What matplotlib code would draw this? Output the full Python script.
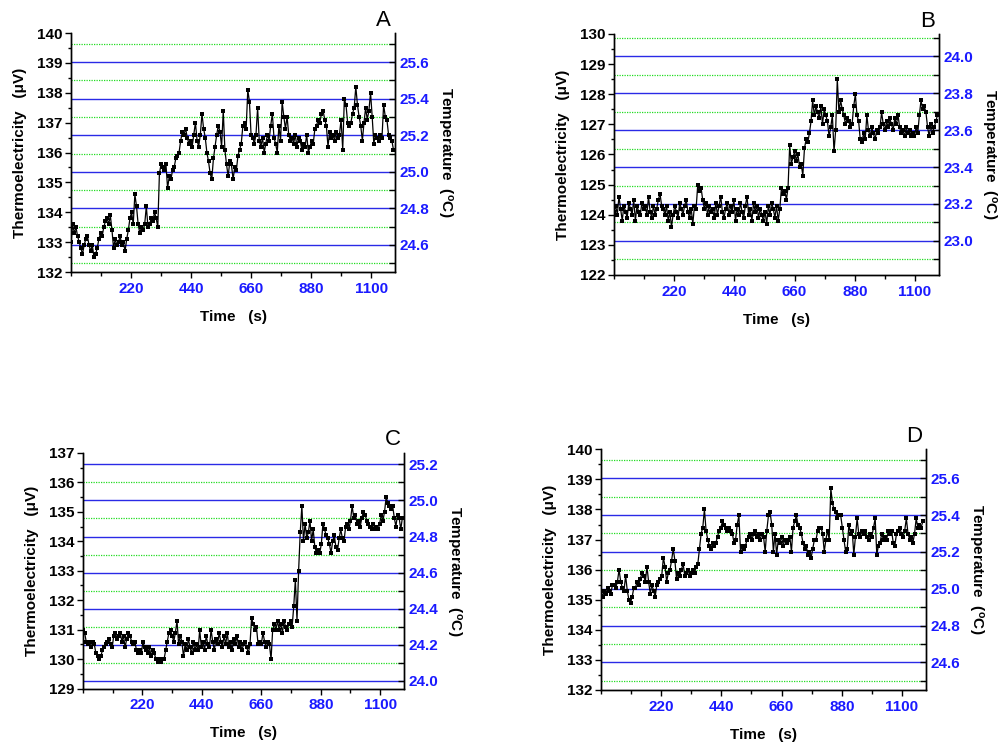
import numpy as np
import matplotlib
matplotlib.use('Agg')
import matplotlib.pyplot as plt
from matplotlib.ticker import MultipleLocator, FixedLocator

plt.rcParams['font.family'] = ['Liberation Sans', 'DejaVu Sans']
plt.rcParams['mathtext.default'] = 'regular'

# sample times (s), one point every 6 s
time_abc = np.arange(0, 1188, 6)
time_d = np.arange(0, 1180, 6)

# thermoelectricity (uV)
volt_a = [
    133.0, 133.6, 133.3, 133.5, 133.2, 133.0, 132.8, 132.6, 132.9, 133.1,
    133.2, 132.9, 132.7, 132.9, 132.5, 132.6, 132.8, 133.1, 133.3, 133.2,
    133.5, 133.7, 133.8, 133.6, 133.9, 133.4, 132.8, 133.1, 132.9, 133.0,
    133.2, 132.9, 133.0, 132.7, 133.1, 133.4, 133.8, 134.0, 133.6, 134.6,
    134.2, 133.6, 133.3, 133.5, 133.4, 133.6, 134.2, 133.5, 133.6, 133.8,
    133.7, 134.0, 133.8, 133.5, 135.3, 135.6, 135.5, 135.4, 135.6, 134.8,
    135.2, 135.1, 135.4, 135.5, 135.8, 135.9, 136.0, 136.4, 136.7, 136.6,
    136.8, 136.5, 136.3, 136.4, 136.2, 136.6, 137.0, 136.4, 136.2, 136.6,
    137.3, 136.8, 136.5, 136.0, 135.7, 135.3, 135.1, 135.8, 136.2, 136.6,
    136.9, 136.7, 136.2, 137.4, 136.1, 135.6, 135.2, 135.7, 135.6, 135.1,
    135.5, 135.4, 135.9, 136.1, 136.3, 136.9, 137.0, 136.8, 138.1, 137.7,
    136.6, 136.5, 136.3, 136.6, 137.5, 136.4, 136.2, 136.5, 136.0, 136.3,
    136.6, 136.4, 136.9, 137.3, 136.5, 136.3, 136.0, 136.9, 136.4, 137.7,
    137.2, 136.8, 137.2, 136.6, 136.4, 136.5, 136.3, 136.6, 136.2, 136.5,
    136.4, 136.1, 136.3, 136.2, 136.6, 136.0, 136.2, 136.4, 136.3, 136.8,
    136.9, 137.1, 137.0, 137.3, 137.4, 137.1, 136.9, 136.2, 136.7, 136.5,
    136.6, 136.4, 136.7, 136.5, 136.6, 137.1, 136.1, 137.8, 137.6, 137.0,
    136.9, 137.0, 137.3, 137.5, 138.2, 137.6, 137.2, 136.9, 136.4, 137.0,
    137.5, 137.1, 137.4, 138.0, 137.2, 136.3, 136.6, 136.5, 136.4, 136.6,
    136.5, 137.6, 137.2, 137.1, 136.6, 136.5, 136.4, 136.1,
]

volt_b = [
    124.1, 124.3, 124.0, 124.6, 124.2, 123.8, 124.3, 124.1, 123.9, 124.4,
    124.2, 124.0, 124.5, 123.8, 124.3, 124.1, 124.0, 124.4, 124.2, 124.3,
    124.0, 124.6, 124.1, 123.9, 124.3, 124.0, 124.2, 124.5, 124.7, 124.3,
    124.2, 124.0, 124.3, 123.8, 124.1, 123.6, 124.0, 124.3, 124.1, 123.9,
    124.4, 124.2, 124.0, 124.3, 124.5, 124.1, 123.9, 124.2, 123.7, 124.3,
    124.2, 125.0, 124.8, 124.9, 124.5, 124.2, 124.4, 124.0, 124.3, 124.1,
    124.2, 123.9, 124.4, 124.0, 124.3, 124.6, 124.1, 123.9, 124.2, 124.4,
    124.0, 124.3, 124.1, 124.5, 123.8, 124.2, 124.0, 124.4, 124.1, 123.9,
    124.3, 124.6, 124.0, 124.2, 123.8, 124.4, 124.1, 124.3, 123.9, 124.2,
    124.0, 123.8, 124.1, 123.7, 124.3, 124.0, 124.4, 124.2, 123.9, 124.3,
    123.8, 124.2, 124.9, 124.7, 124.8, 124.5, 124.9, 126.3, 125.7, 125.9,
    126.1, 125.8, 126.0, 125.6, 125.7, 125.3, 126.2, 126.5, 126.4, 126.7,
    127.1, 127.8, 127.3, 127.6, 127.4, 127.2, 127.6, 127.0, 127.5, 127.3,
    127.1, 126.6, 126.9, 127.3, 126.1, 126.8, 128.5, 127.4, 127.8, 127.5,
    127.3, 127.0, 127.2, 127.1, 126.9, 127.0, 127.6, 128.0, 127.3, 127.1,
    126.5, 126.4, 126.7, 126.5, 127.3, 126.8, 126.6, 126.9, 126.7, 126.5,
    126.8, 126.7, 126.9, 127.4, 127.0, 126.8, 127.1, 126.9, 127.2, 127.0,
    126.8, 127.2, 127.0, 127.3, 126.9, 126.7, 126.8, 126.6, 126.9, 126.7,
    126.8, 126.6, 126.7, 126.6, 126.9, 126.7, 127.3, 127.8, 127.5, 127.6,
    127.4, 126.9, 126.6, 127.0, 126.7, 126.9, 127.1, 127.3,
]

volt_c = [
    131.0, 130.9, 130.6, 130.5, 130.6, 130.4, 130.6, 130.5, 130.2, 130.1,
    130.0, 130.1, 130.3, 130.4, 130.5, 130.6, 130.7, 130.5, 130.4, 130.8,
    130.9, 130.7, 130.8, 130.9, 130.6, 130.8, 130.4, 130.7, 130.9, 130.8,
    130.6, 130.5, 130.6, 130.3, 130.2, 130.3, 130.2, 130.6, 130.4, 130.3,
    130.2, 130.4, 130.1, 130.3, 130.2, 130.0, 129.9, 130.0, 129.9, 130.0,
    130.0, 130.3, 130.6, 130.9, 131.0, 130.8, 130.6, 130.9, 131.3, 130.5,
    130.8, 130.6, 130.1, 130.5, 130.3, 130.7, 130.4, 130.2, 130.6, 130.3,
    130.5, 130.3, 131.0, 130.4, 130.6, 130.3, 130.8, 130.5, 130.4, 131.0,
    130.6, 130.3, 130.7, 130.5, 130.9, 130.6, 130.4, 130.8, 130.5, 130.9,
    130.4, 130.6, 130.3, 130.7, 130.5, 130.8, 130.4, 130.6, 130.3, 130.5,
    130.6, 130.4, 130.2, 130.5, 131.4, 131.2, 131.0, 131.1, 130.5, 130.6,
    130.5, 130.9, 130.6, 130.4, 130.6, 130.5, 130.0, 131.0, 131.2, 131.0,
    131.3, 131.0, 131.2, 130.9, 131.3, 131.1, 131.0, 131.2, 131.3, 131.1,
    131.8, 132.7, 131.3, 133.0, 134.3, 135.2, 134.0, 134.6, 134.1, 134.3,
    134.7, 134.0, 134.4, 133.8, 133.6, 133.7, 133.6, 133.9, 134.6, 134.4,
    134.2, 134.1, 133.9, 133.6, 134.0, 134.2, 133.8, 133.7, 134.1, 134.4,
    134.1, 134.0, 134.5, 134.6, 134.4, 134.7, 135.2, 134.8, 134.9, 134.6,
    134.7, 134.5, 134.8, 135.0, 134.9, 134.7, 134.6, 134.5, 134.4, 134.6,
    134.4, 134.5, 134.4, 134.6, 134.9, 134.7, 135.0, 135.5, 135.3, 135.2,
    135.1, 135.2, 134.8, 134.5, 134.9, 134.8, 134.4, 134.8,
]

volt_d = [
    135.3, 135.1, 135.3, 135.2, 135.4, 135.3, 135.2, 135.5, 135.5, 135.4,
    135.6, 136.0, 135.6, 135.4, 135.3, 135.8, 135.3, 135.0, 134.9, 135.1,
    135.4, 135.4, 135.6, 135.5, 135.7, 135.9, 135.8, 135.6, 136.1, 135.6,
    135.2, 135.5, 135.3, 135.1, 135.5, 135.6, 135.7, 135.8, 136.4, 136.1,
    135.6, 135.9, 136.0, 136.3, 136.7, 136.3, 135.7, 135.9, 135.8, 136.0,
    136.2, 135.8, 135.9, 136.0, 135.8, 135.9, 136.0, 135.9, 136.1, 136.2,
    136.7, 137.2, 137.4, 138.0, 137.3, 137.0, 136.8, 136.7, 136.9, 136.8,
    136.9, 137.1, 137.3, 137.4, 137.6, 137.5, 137.4, 137.3, 137.4, 137.3,
    137.2, 136.9, 137.0, 137.5, 137.8, 136.6, 136.8, 136.7, 136.8, 137.0,
    137.1, 137.2, 137.0, 137.2, 137.3, 137.1, 137.2, 137.0, 137.2, 137.1,
    136.6, 137.3, 137.8, 137.9, 137.5, 136.6, 137.2, 136.5, 137.0, 136.9,
    137.1, 136.8, 137.0, 136.9, 137.0, 137.1, 136.6, 137.4, 137.6, 137.8,
    137.5, 137.4, 137.2, 136.9, 136.7, 136.8, 136.5, 136.6, 136.4, 136.7,
    137.0, 137.0, 137.3, 137.4, 137.4, 137.2, 136.6, 137.0, 137.3, 137.0,
    138.7, 138.2, 138.0, 137.9, 137.7, 137.8, 137.8, 137.4, 137.0, 136.6,
    136.7, 137.5, 137.2, 137.3, 136.5, 137.1, 137.7, 137.2, 137.1, 137.3,
    137.2, 137.3, 137.1, 137.0, 137.2, 137.1, 137.4, 137.7, 136.5, 136.8,
    136.9, 137.2, 137.0, 137.1, 137.0, 137.3, 137.2, 137.3, 136.9, 136.8,
    137.2, 137.3, 137.4, 137.2, 137.1, 137.3, 137.7, 137.2, 137.0, 137.1,
    136.9, 137.2, 137.7, 137.4, 137.5, 137.4, 137.6,
]

letters = ['A', 'B', 'C', 'D']
volt_lims = [(132, 140), (122, 130), (129, 137), (132, 140)]
temp_lows = [24.452, 22.815, 23.957, 24.45]
temp_span = 1.307
time_ticks = [220, 440, 660, 880, 1100]

# axes boxes [left, bottom, width, height] in figure fraction
boxes = [
    [0.0709, 0.6334, 0.3234, 0.3221],
    [0.6128, 0.6294, 0.3244, 0.3248],
    [0.0828, 0.0718, 0.3204, 0.3180],
    [0.5998, 0.0701, 0.3244, 0.3244],
]

BLUE = '#1a1aff'
fig = plt.figure(figsize=(10.02, 7.42), dpi=100)

panels = [(time_abc, volt_a), (time_abc, volt_b), (time_abc, volt_c), (time_d, volt_d)]
for i, (t, v) in enumerate(panels):
    ax = fig.add_axes(boxes[i])
    ax2 = ax.twinx()
    ax.set_zorder(ax2.get_zorder() + 1)
    ax.patch.set_visible(False)

    ax.plot(t, v, color='black', lw=0.9, marker='s', ms=2.4, mew=0)
    ax.set_xlim(0, 1188)
    ax.set_ylim(*volt_lims[i])
    ax.xaxis.set_major_locator(FixedLocator(time_ticks))
    ax.xaxis.set_minor_locator(MultipleLocator(110))
    ax.yaxis.set_major_locator(MultipleLocator(1))
    ax.yaxis.set_minor_locator(MultipleLocator(0.5))
    ax.tick_params(axis='both', which='major', direction='out', length=4,
                   width=1, labelsize=11)
    ax.tick_params(axis='both', which='minor', direction='out', length=2, width=1)
    ax.tick_params(axis='x', which='minor', length=3)
    ax.tick_params(axis='x', labelcolor=BLUE, pad=3)
    ax.tick_params(axis='y', pad=2)
    for lab in ax.get_xticklabels() + ax.get_yticklabels():
        lab.set_fontweight('bold')
    ax.set_xlabel('Time   (s)', fontsize=11, fontweight='bold', labelpad=10)
    ax.set_ylabel('Thermoelectricity   (\u03bcV)', fontsize=11,
                  fontweight='bold', labelpad=7)

    lo = temp_lows[i]
    ax2.set_ylim(lo, lo + temp_span)
    ax2.yaxis.set_major_locator(MultipleLocator(0.2))
    ax2.yaxis.set_minor_locator(MultipleLocator(0.1))
    ax2.yaxis.set_major_formatter('{x:.1f}')
    ax2.tick_params(axis='y', which='both', direction='in', length=4, width=1,
                    labelsize=11, labelcolor=BLUE, pad=3)
    for lab in ax2.get_yticklabels():
        lab.set_fontweight('bold')
    ax2.yaxis.grid(True, which='major', color='#2a2ae6', lw=1.0, ls='-')
    ax2.yaxis.grid(True, which='minor', color='#22dd22', lw=0.9, ls=(0, (1, 1)))
    ax2.set_ylabel('Temperature  ($^{o}$C)', fontsize=11, fontweight='bold',
                   rotation=270, labelpad=18)

    for a in (ax, ax2):
        a.spines['top'].set_visible(False)
        for s in a.spines.values():
            s.set_linewidth(1)

    ax.text(0.965, 1.01, letters[i], transform=ax.transAxes, ha='center',
            va='bottom', fontsize=16)

fig.savefig('out.png', dpi=100)
